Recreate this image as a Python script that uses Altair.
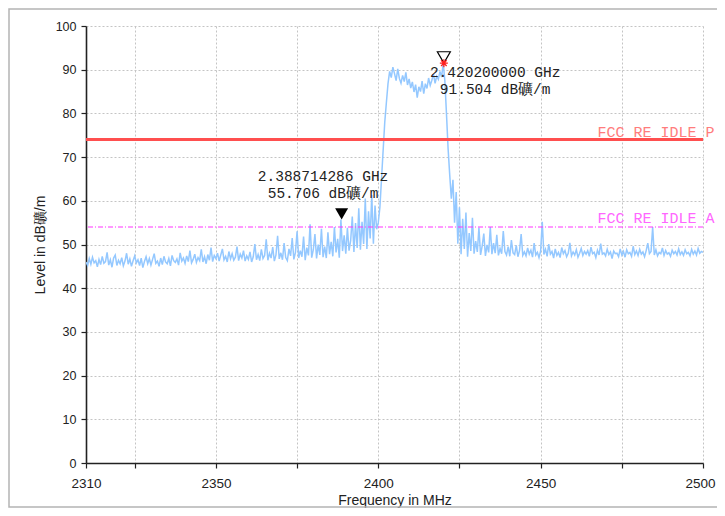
import altair as alt
import numpy as np
import pandas as pd

# ---------------- data ----------------
F_START, F_STOP, F_STEP = 2310.0, 2500.0, 0.5
level_rows = [
    [46.0, 45.2, 46.8, 45.5, 47.1, 45.8, 46.3, 44.9, 46.6, 45.4],  # 2310
    [47.3, 45.7, 46.1, 48.2, 45.3, 46.5, 44.8, 46.9, 47.6, 45.2],  # 2315
    [46.4, 45.6, 47.0, 45.1, 46.2, 48.0, 45.5, 46.7, 45.0, 46.3],  # 2320
    [47.4, 45.8, 46.5, 45.2, 46.9, 44.7, 46.1, 47.2, 45.6, 46.8],  # 2325
    [45.3, 46.6, 47.9, 45.7, 46.2, 45.0, 46.9, 45.4, 47.3, 46.0],  # 2330
    [45.6, 46.8, 45.1, 47.5, 46.3, 45.9, 46.7, 45.3, 48.1, 46.2],  # 2335
    [46.9, 45.7, 47.4, 46.1, 48.6, 45.8, 46.6, 47.8, 45.9, 47.0],  # 2340
    [46.3, 48.9, 46.0, 47.2, 45.6, 47.7, 46.4, 49.3, 46.1, 47.5],  # 2345
    [46.8, 48.0, 46.2, 47.6, 49.0, 46.5, 47.3, 46.0, 48.4, 46.7],  # 2350
    [47.9, 46.4, 47.1, 49.5, 46.3, 47.8, 46.9, 48.6, 46.2, 47.4],  # 2355
    [46.6, 48.3, 46.0, 47.2, 50.1, 46.5, 47.7, 46.3, 48.9, 46.8],  # 2360
    [47.5, 51.2, 46.4, 48.0, 46.9, 49.4, 46.2, 47.6, 52.0, 46.7],  # 2365
    [48.1, 46.5, 50.3, 47.0, 46.3, 49.0, 47.4, 51.5, 46.6, 48.2],  # 2370
    [53.0, 46.9, 48.6, 47.2, 51.8, 46.4, 49.3, 47.5, 54.6, 47.0],  # 2375
    [48.8, 52.4, 46.8, 50.0, 47.6, 53.6, 47.1, 49.5, 46.9, 52.8],  # 2380
    [47.8, 50.6, 47.3, 54.0, 48.2, 51.3, 47.0, 55.7, 48.5, 52.1],  # 2385
    [47.9, 53.8, 48.6, 50.9, 56.4, 48.3, 54.9, 49.2, 58.3, 48.8],  # 2390
    [55.2, 50.1, 60.5, 49.0, 57.6, 51.4, 61.3, 50.2, 58.9, 53.5],  # 2395
    [55.0, 58.5, 65.0, 71.5, 78.0, 82.5, 86.8, 89.6, 88.2, 90.6],  # 2400
    [89.1, 87.5, 90.2, 88.0, 86.9, 88.7, 87.3, 89.4, 86.5, 87.9],  # 2405
    [85.8, 87.2, 84.9, 86.6, 83.6, 86.1, 85.0, 87.4, 84.5, 86.8],  # 2410
    [85.7, 88.1, 86.4, 87.6, 89.0, 86.9, 88.5, 87.8, 89.6, 88.3],  # 2415
    [91.5, 87.5, 80.0, 72.0, 66.0, 60.5, 64.8, 55.0, 62.0, 50.2],  # 2420
    [58.5, 47.8, 55.9, 49.0, 57.3, 47.2, 52.6, 48.5, 56.1, 47.9],  # 2425
    [50.8, 48.3, 53.9, 47.6, 49.7, 52.5, 47.4, 49.9, 48.2, 54.0],  # 2430
    [47.8, 50.3, 48.0, 52.2, 47.5, 49.1, 47.9, 53.1, 48.4, 47.6],  # 2435
    [49.5, 47.3, 51.0, 48.1, 47.7, 49.8, 47.2, 48.6, 52.4, 47.5],  # 2440
    [48.3, 47.4, 49.2, 47.8, 48.7, 47.1, 50.3, 47.6, 48.2, 47.0],  # 2445
    [48.5, 55.2, 47.7, 48.9, 47.3, 50.1, 47.8, 48.4, 46.9, 49.0],  # 2450
    [47.5, 48.2, 47.0, 49.3, 47.9, 48.6, 47.2, 48.0, 50.4, 47.4],  # 2455
    [48.3, 47.6, 48.8, 47.1, 48.0, 49.1, 47.5, 48.4, 47.8, 48.6],  # 2460
    [47.3, 49.4, 47.9, 48.2, 47.0, 48.7, 47.6, 50.2, 47.8, 48.1],  # 2465
    [47.4, 48.9, 47.7, 48.3, 46.8, 48.5, 47.9, 48.0, 47.2, 49.0],  # 2470
    [47.6, 48.4, 47.1, 48.8, 47.9, 48.2, 47.3, 49.6, 47.7, 48.5],  # 2475
    [47.5, 48.9, 47.8, 48.3, 47.2, 48.6, 50.3, 47.9, 48.4, 54.0],  # 2480
    [47.6, 48.8, 47.4, 48.2, 47.9, 49.2, 47.5, 48.6, 47.8, 48.1],  # 2485
    [47.3, 48.7, 47.9, 48.4, 47.6, 49.0, 47.7, 48.3, 47.5, 48.8],  # 2490
    [47.9, 48.2, 47.4, 48.9, 47.8, 48.5, 47.6, 49.1, 48.0, 48.4],  # 2495
    [48.2],                                                        # 2500
]
levels = [v for row in level_rows for v in row]
freqs = np.arange(F_START, F_STOP + F_STEP / 2, F_STEP)
assert len(freqs) == len(levels)

limit_pk = 74.0
limit_av = 54.0
limit_names = ["FCC RE IDLE P", "FCC RE IDLE A"]
limit_label_x = [2467.5, 2467.5]
limit_label_y = [75.7, 56.1]

marker_freq = [2388.714286, 2420.2]
marker_level = [55.706, 91.504]

ann_text = ["2.388714286 GHz\n55.706 dB礦/m", "2.420200000 GHz\n91.504 dB礦/m"]
ann_x = [2383.0, 2436.0]
ann_y = [65.4, 89.2]

x_ticks = [2310, 2325, 2350, 2375, 2400, 2425, 2450, 2475, 2500]
y_ticks = list(range(0, 101, 5))

# ---------------- chart ----------------
trace_df = pd.DataFrame({"freq": freqs, "level": levels})

xscale = alt.Scale(domain=[2310, 2500], nice=False, zero=False)
yscale = alt.Scale(domain=[0, 100], nice=False, zero=True)

axis_common = dict(
    grid=True, gridColor="#c4c4c4", gridDash=[2, 2], gridWidth=1,
    domainColor="#222222", domainWidth=1.6, tickColor="#222222", tickWidth=1.2,
    tickSize=5, labelColor="#222222", labelFont="Liberation Sans",
    titleFont="Liberation Sans", titleFontWeight="normal", titleColor="#222222",
    labelOverlap=False, labelFlush=False, format="d",
)

x_axis = alt.Axis(
    values=x_ticks, title="Frequency in MHz", titleFontSize=14, labelFontSize=13.5,
    labelPadding=8, titlePadding=3.5,
    labelOffset={"condition": {"test": "datum.value == 2500", "value": -3}, "value": 0},
    labelExpr="(datum.value % 50 == 0 || datum.value == 2310) ? datum.label : ''",
    **axis_common,
)
y_axis = alt.Axis(
    values=y_ticks, title="Level in dB礦/m", titleFontSize=14, labelFontSize=12.5,
    labelPadding=5, titlePadding=8,
    labelExpr="datum.value % 10 == 0 ? datum.label : ''",
    **axis_common,
)

trace = alt.Chart(trace_df).mark_line(color="#94c8ff", strokeWidth=1.5, clip=True).encode(
    x=alt.X("freq:Q", scale=xscale, axis=x_axis),
    y=alt.Y("level:Q", scale=yscale, axis=y_axis),
)

pk_rule = alt.Chart(pd.DataFrame({"lim": [limit_pk]})).mark_rule(
    color="#ff4f4f", strokeWidth=3
).encode(y=alt.Y("lim:Q", scale=yscale))

av_rule = alt.Chart(pd.DataFrame({"lim": [limit_av]})).mark_rule(
    color="#ff33ff", strokeWidth=1.2, strokeDash=[5, 2, 1, 2]
).encode(y=alt.Y("lim:Q", scale=yscale))

lim_df = pd.DataFrame({"name": limit_names, "x": limit_label_x, "y": limit_label_y,
                       "kind": ["pk", "av"]})
lim_text = alt.Chart(lim_df).mark_text(
    font="Liberation Mono", fontSize=15, align="left", baseline="middle"
).encode(
    x=alt.X("x:Q", scale=xscale),
    y=alt.Y("y:Q", scale=yscale),
    text="name:N",
    color=alt.Color("kind:N", scale=alt.Scale(domain=["pk", "av"], range=["#ff7c7c", "#ff66ff"]),
                    legend=None),
)

tri_path = "M-1,-1.75L1,-1.75L0,0Z"
mk1 = alt.Chart(pd.DataFrame({"f": marker_freq[:1], "l": marker_level[:1]})).mark_point(
    shape=tri_path, size=169, filled=True, color="#000000", opacity=1
).encode(x=alt.X("f:Q", scale=xscale), y=alt.Y("l:Q", scale=yscale))

mk2 = alt.Chart(pd.DataFrame({"f": marker_freq[1:], "l": marker_level[1:]})).mark_point(
    shape=tri_path, size=169, filled=False, color="#000000", strokeWidth=1.2, opacity=1
).encode(x=alt.X("f:Q", scale=xscale), y=alt.Y("l:Q", scale=yscale))

star_path = "M-1,0L1,0M0,-1L0,1M-0.7,-0.7L0.7,0.7M-0.7,0.7L0.7,-0.7"
star = alt.Chart(pd.DataFrame({"f": marker_freq[1:], "l": marker_level[1:]})).mark_point(
    shape=star_path, size=64, filled=False, color="#ff2020", strokeWidth=1.3, opacity=1
).encode(x=alt.X("f:Q", scale=xscale), y=alt.Y("l:Q", scale=yscale))

ann_df = pd.DataFrame({"t": ann_text, "x": ann_x, "y": ann_y})
ann = alt.Chart(ann_df).mark_text(
    font="Liberation Mono", fontSize=14.5, lineHeight=16.5, lineBreak="\n",
    align="center", baseline="middle", color="#222222"
).encode(x=alt.X("x:Q", scale=xscale), y=alt.Y("y:Q", scale=yscale), text="t:N")

frame = alt.Chart(pd.DataFrame({"k": [0]})).mark_rect(
    fill=None, stroke="#b4b4b4", strokeWidth=1.5, clip=False
).encode(
    x=alt.value(-77), x2=alt.value(650), y=alt.value(-17), y2=alt.value(481)
)

chart = alt.layer(frame, trace, pk_rule, av_rule, lim_text, mk1, mk2, star, ann).properties(
    width=617, height=437,
    autosize=alt.AutoSizeParams(type="none"),
    padding={"left": 78, "top": 18, "right": 14, "bottom": 45},
    background="white",
).configure_view(stroke=None)

chart.save("out.html", embed_options={"renderer": "svg", "actions": False})
